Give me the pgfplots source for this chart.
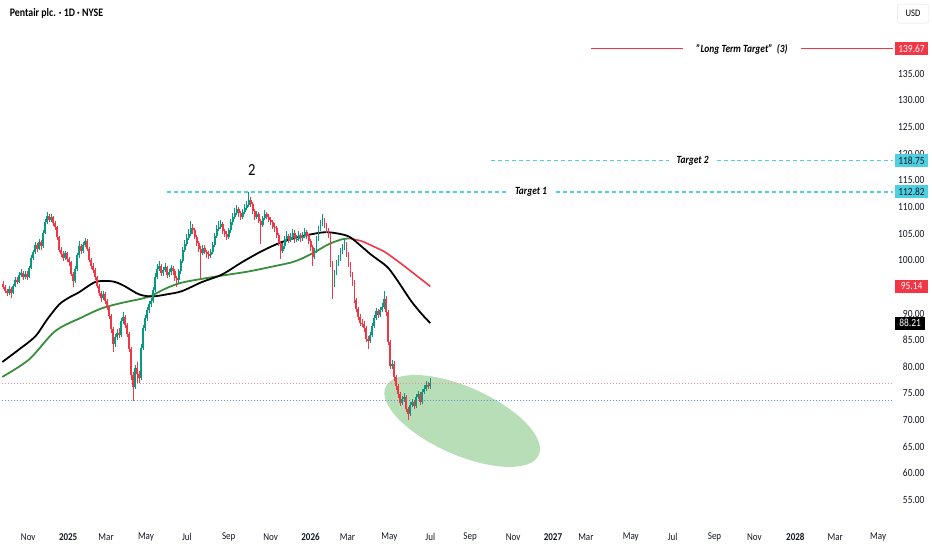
\documentclass[border=0pt]{standalone}
\usepackage{pgfplots}
\pgfplotsset{compat=1.18}
\usepackage{pgfplotstable}
\usepackage{fontspec}
\setmainfont{Carlito}[FakeStretch=0.86]
\definecolor{upc}{RGB}{8,153,129}
\definecolor{dnc}{RGB}{242,54,69}
\definecolor{tvtext}{RGB}{19,23,34}
\definecolor{tcyan}{RGB}{77,208,225}
\definecolor{ellg}{RGB}{183,222,183}
\definecolor{magreen}{RGB}{56,142,60}
\definecolor{pinkdot}{RGB}{244,140,150}
\definecolor{bluedot}{RGB}{90,145,225}

\pgfplotstableread{
x o h l c
1 95.6 96.1 94.6 95.0
3 95.0 95.4 93.8 94.2
5 94.2 94.6 93.2 93.8
7 93.8 95.1 93.5 94.6
9 94.6 95.0 93.0 93.9
11 93.9 95.6 93.6 95.2
13 95.2 96.8 94.9 96.3
15 96.3 96.9 95.5 96.0
17 96.0 97.8 95.7 97.2
19 97.2 98.3 96.8 97.6
21 97.6 97.9 96.2 96.8
23 96.8 98.0 96.4 97.5
25 97.5 97.9 96.3 96.9
27 96.9 99.0 96.6 98.6
29 98.6 100.9 98.3 100.4
31 100.4 102.0 100.0 101.5
33 101.5 103.5 101.1 102.8
35 102.8 103.3 101.6 102.2
37 102.2 104.0 101.9 103.4
39 103.4 103.8 102.0 102.6
41 102.6 105.7 102.3 105.2
43 105.2 107.8 104.9 107.2
45 107.2 109.0 106.8 108.3
47 108.3 108.7 107.1 107.6
49 107.6 108.6 107.2 108.1
51 108.1 108.4 106.4 106.9
53 106.9 107.3 105.7 106.2
55 106.2 106.5 103.8 104.3
57 104.3 104.6 101.5 102.0
59 102.0 102.5 100.6 101.2
61 101.2 101.7 99.9 100.4
63 100.4 101.8 100.0 101.3
65 101.3 101.6 99.7 100.2
67 100.2 100.7 98.9 99.6
69 99.6 99.9 97.0 97.5
71 97.5 97.8 95.0 96.1
73 96.1 98.9 95.8 98.4
75 98.4 101.4 98.0 100.9
77 100.9 103.6 100.5 102.6
79 102.6 103.0 101.2 101.8
81 101.8 103.4 101.4 102.9
83 102.9 104.2 102.5 103.6
85 103.6 103.9 101.7 102.2
87 102.2 102.5 99.6 100.1
89 100.1 100.5 98.3 98.9
91 98.9 99.4 97.6 98.2
93 98.2 98.6 96.2 96.8
95 96.8 97.1 94.7 95.2
97 95.2 95.6 93.2 93.8
99 93.8 94.3 92.2 92.9
101 92.9 94.2 92.5 93.6
103 93.6 94.0 91.7 92.3
105 92.3 92.7 90.6 91.2
107 91.2 91.6 89.0 89.6
109 89.6 90.0 86.4 87.0
111 87.0 87.4 82.8 84.2
113 84.2 86.2 83.8 85.6
115 85.6 87.0 85.1 86.4
117 86.4 87.3 85.4 86.0
119 86.0 89.2 85.6 88.6
121 88.6 90.2 88.1 89.3
123 89.3 89.7 87.2 87.8
125 87.8 88.2 85.5 86.1
127 86.1 86.5 82.8 83.4
129 83.4 83.8 77.6 78.5
131 78.5 79.0 73.6 76.2
133 76.2 80.4 75.8 79.8
135 79.8 80.9 77.0 78.6
137 78.6 79.3 77.0 77.9
139 77.9 84.2 77.5 83.6
141 83.6 87.9 83.2 87.3
143 87.3 89.7 86.8 89.1
145 89.1 91.2 88.6 90.6
147 90.6 92.4 90.1 91.8
149 91.8 93.0 91.3 92.3
151 92.3 95.0 92.0 94.4
153 94.4 97.6 94.0 96.8
155 96.8 99.3 96.4 98.4
157 98.4 99.8 97.9 98.9
159 98.9 99.3 97.0 97.6
161 97.6 98.7 97.1 98.1
163 98.1 99.5 97.7 98.7
165 98.7 99.0 96.7 97.2
167 97.2 98.4 96.8 97.8
169 97.8 99.2 97.3 98.6
171 98.6 99.0 97.3 97.9
173 97.9 98.3 96.1 96.6
175 96.6 97.1 95.0 96.2
177 96.2 98.4 95.8 97.9
179 97.9 100.3 97.5 99.8
181 99.8 102.5 99.4 101.9
183 101.9 103.8 101.5 103.1
185 103.1 104.9 102.7 104.2
187 104.2 105.8 103.8 104.9
189 104.9 107.3 104.5 106.1
191 106.1 106.8 105.0 105.6
193 105.6 106.0 103.9 104.4
195 104.4 104.8 102.7 103.3
197 103.3 103.7 101.6 102.1
199 102.1 102.6 96.4 101.4
201 101.4 102.9 101.0 102.3
203 102.3 102.8 101.1 101.6
205 101.6 102.0 100.5 101.2
207 101.2 101.7 100.2 100.9
209 100.9 102.1 100.5 101.6
211 101.6 103.4 101.2 102.9
213 102.9 105.2 102.5 104.6
215 104.6 106.6 104.2 105.8
217 105.8 107.4 105.4 106.3
219 106.3 107.6 105.9 106.8
221 106.8 107.1 104.9 105.4
223 105.4 105.9 104.3 105.0
225 105.0 105.4 103.8 104.3
227 104.3 106.1 104.0 105.6
229 105.6 107.7 105.2 107.1
231 107.1 108.9 106.7 108.2
233 108.2 109.8 107.8 108.9
235 108.9 110.3 108.5 109.6
237 109.6 110.0 108.2 108.8
239 108.8 109.3 107.6 108.2
241 108.2 109.7 107.8 109.0
243 109.0 110.6 108.6 109.8
245 109.8 111.1 109.4 110.4
247 110.4 112.8 110.0 111.3
249 111.3 111.9 110.0 110.6
251 110.6 111.0 108.6 109.2
253 109.2 109.6 107.5 108.1
255 108.1 109.3 107.7 108.6
257 108.6 109.0 106.9 107.4
259 107.4 107.8 103.0 106.6
261 106.6 108.4 106.2 107.9
263 107.9 109.4 107.5 108.6
265 108.6 109.1 107.7 108.2
267 108.2 108.6 107.1 107.6
269 107.6 108.1 106.6 107.1
271 107.1 107.5 105.8 106.3
273 106.3 106.9 105.3 106.0
275 106.0 106.4 104.2 104.8
277 104.8 105.2 102.6 103.2
279 103.2 103.6 100.2 101.8
281 101.8 103.2 101.4 102.6
283 102.6 104.5 102.2 103.9
285 103.9 105.4 103.5 104.6
287 104.6 105.0 103.2 103.8
289 103.8 105.1 103.4 104.4
291 104.4 105.9 104.0 105.2
293 105.2 105.6 103.3 103.9
295 103.9 104.7 103.4 104.0
297 104.0 105.4 103.6 104.7
299 104.7 105.1 103.5 104.1
301 104.1 105.3 103.7 104.6
303 104.6 106.0 104.2 105.3
305 105.3 105.7 103.9 104.5
307 104.5 104.9 103.0 103.6
309 103.6 104.0 101.8 102.4
311 102.4 102.8 99.0 100.6
313 100.6 102.3 100.2 101.8
315 101.8 104.6 101.4 104.1
317 104.1 106.5 103.7 105.9
319 105.9 107.6 105.5 106.9
321 106.9 108.6 106.5 107.6
323 107.6 108.0 106.0 106.5
325 106.5 106.9 105.1 105.6
327 105.6 106.0 104.2 104.8
329 104.8 105.1 98.8 99.5
331 99.5 99.9 92.7 95.4
333 95.4 98.2 95.0 97.6
335 97.6 100.0 97.2 99.4
337 99.4 101.0 99.0 100.3
339 100.3 102.3 99.9 101.6
341 101.6 103.1 101.2 102.4
343 102.4 104.0 102.0 103.1
345 103.1 103.5 100.7 101.2
347 101.2 101.6 98.8 99.3
349 99.3 99.7 96.9 97.4
351 97.4 97.8 95.2 95.8
353 95.8 96.2 92.0 92.6
355 92.6 93.0 90.2 90.8
357 90.8 91.2 88.8 89.4
359 89.4 89.9 87.7 88.3
361 88.3 89.0 87.4 88.0
363 88.0 88.6 86.6 87.2
365 87.2 87.6 84.7 85.3
367 85.3 85.8 83.3 84.8
369 84.8 86.6 84.4 86.0
371 86.0 88.2 85.6 87.6
373 87.6 89.8 87.2 89.2
375 89.2 91.0 88.8 90.4
377 90.4 90.9 89.2 89.8
379 89.8 91.3 89.4 90.6
381 90.6 92.0 90.2 91.3
383 91.3 94.2 90.9 92.8
385 92.8 93.2 89.6 90.2
387 90.2 90.6 84.0 84.6
389 84.6 85.0 79.5 80.1
391 80.1 81.2 79.6 80.6
393 80.6 81.0 77.4 78.0
395 78.0 78.4 75.7 76.3
397 76.3 76.7 74.2 74.8
399 74.8 75.2 72.6 73.2
401 73.2 74.5 72.8 73.9
403 73.9 75.0 73.4 74.3
405 74.3 74.7 71.5 72.1
407 72.1 72.5 70.0 71.2
409 71.2 73.4 70.8 72.8
411 72.8 74.0 72.4 73.4
413 73.4 73.8 72.0 72.6
415 72.6 74.9 72.2 74.3
417 74.3 75.5 73.9 74.8
419 74.8 75.2 72.8 73.4
421 73.4 75.8 73.0 75.2
423 75.2 76.6 74.8 75.9
425 75.9 77.4 75.5 76.6
427 76.6 77.2 75.8 76.3
429 76.3 77.8 75.9 77.0
}\candles

\pgfplotstableread{
x y
0 80.9
15 83.0
33 85.7
45 88.9
57 91.7
67 93.0
77 94.0
93 95.9
107 96.1
115 95.8
123 95.1
137 93.6
150 93.2
165 93.6
180 94.2
200 95.9
220 97.3
240 99.6
260 101.7
280 103.4
300 104.5
320 105.2
330 105.2
347 104.5
360 102.6
370 101.0
385 98.9
392 97.3
400 95.1
410 92.3
420 90.0
429 88.2
}\blackma

\pgfplotstableread{
x y
0 78.1
27 81.4
53 86.7
80 89.3
100 91.0
120 92.0
140 92.8
150 93.4
165 94.8
180 95.8
200 96.5
223 97.2
247 97.9
273 98.9
290 99.6
300 100.3
313 101.5
327 103.0
340 103.9
348 104.1
}\greenma

\pgfplotstableread{
x y
348 104.1
360 103.6
372 102.6
383 101.6
393 100.3
403 98.9
416 97.0
429 95.1
}\redma

\begin{document}
\begin{tikzpicture}
\begin{axis}[
  scale only axis, width=932pt, height=550pt,
  xmin=0, xmax=932, ymin=45.86, ymax=148.86,
  hide axis, clip=false,
  every node/.append style={text=tvtext},
]
\path (rel axis cs:0,0) rectangle (rel axis cs:1,1);

% highlight ellipse
\fill[ellg] (axis cs:461,69.83) ellipse [x radius=84pt, y radius=34pt, rotate=-23.9];

% price lines
\addplot[color=pinkdot, line width=1pt, dash pattern=on 1pt off 2pt] coordinates {(0,76.95) (893,76.95)};
\addplot[color=bluedot, line width=1pt, dash pattern=on 1pt off 2pt] coordinates {(0,73.6) (893,73.6)};

% targets
\addplot[color=tcyan, line width=1.2pt, dash pattern=on 4pt off 3pt] coordinates {(165,112.82) (506,112.82)};
\addplot[color=tcyan, line width=1.2pt, dash pattern=on 4pt off 3pt] coordinates {(555,112.82) (893,112.82)};
\addplot[color=tcyan, line width=1.2pt, dash pattern=on 4pt off 3pt] coordinates {(490,118.75) (668,118.75)};
\addplot[color=tcyan, line width=1.2pt, dash pattern=on 4pt off 3pt] coordinates {(716,118.75) (893,118.75)};
\addplot[color=dnc, line width=1.1pt] coordinates {(590,139.67) (682,139.67)};
\addplot[color=dnc, line width=1.1pt] coordinates {(801,139.67) (893,139.67)};

% moving averages
\addplot[color=magreen, line width=1.8pt, smooth] table[x=x,y=y]{\greenma};
\addplot[color=dnc, line width=1.6pt, smooth] table[x=x,y=y]{\redma};
\addplot[color=black, line width=1.8pt, smooth] table[x=x,y=y]{\blackma};

% candles: wicks and bodies as error bars
\addplot[draw=none, mark=none, restrict expr to domain={\thisrow{c}-\thisrow{o}}{-1000:0},
  error bars/.cd, y dir=both, y explicit, error mark=none,
  error bar style={draw=dnc, line width=0.8pt}]
  table[x=x, y expr={(\thisrow{h}+\thisrow{l})/2}, y error expr={(\thisrow{h}-\thisrow{l})/2}]{\candles};
\addplot[draw=none, mark=none, restrict expr to domain={\thisrow{c}-\thisrow{o}}{-1000:0},
  error bars/.cd, y dir=both, y explicit, error mark=none,
  error bar style={draw=dnc, line width=1.9pt}]
  table[x=x, y expr={(\thisrow{o}+\thisrow{c})/2}, y error expr={abs(\thisrow{o}-\thisrow{c})/2}]{\candles};
\addplot[draw=none, mark=none, restrict expr to domain={\thisrow{c}-\thisrow{o}}{0:1000},
  error bars/.cd, y dir=both, y explicit, error mark=none,
  error bar style={draw=upc, line width=0.8pt}]
  table[x=x, y expr={(\thisrow{h}+\thisrow{l})/2}, y error expr={(\thisrow{h}-\thisrow{l})/2}]{\candles};
\addplot[draw=none, mark=none, restrict expr to domain={\thisrow{c}-\thisrow{o}}{0:1000},
  error bars/.cd, y dir=both, y explicit, error mark=none,
  error bar style={draw=upc, line width=1.9pt}]
  table[x=x, y expr={(\thisrow{o}+\thisrow{c})/2}, y error expr={abs(\thisrow{o}-\thisrow{c})/2}]{\candles};

% annotations
\node[font=\fontsize{17}{18}\selectfont] at (axis cs:250,117.0) {2};
\node[font=\fontsize{11}{12}\selectfont\bfseries\itshape] at (axis cs:530,112.82) {Target 1};
\node[font=\fontsize{11}{12}\selectfont\bfseries\itshape] at (axis cs:692,118.75) {Target 2};
\node[font=\fontsize{11}{12}\selectfont\bfseries\itshape] at (axis cs:741.5,139.67) {"Long Term Target"\ \ (3)};

% title
\node[anchor=west, font=\fontsize{11.5}{12}\selectfont\bfseries] at (axis cs:4,146.4) {Pentair plc. · 1D · NYSE};

% USD box
\node[draw=black!12, rounded corners=2pt, minimum width=31pt, minimum height=19pt, inner sep=0pt, font=\fontsize{10}{11}\selectfont] at (axis cs:913,146.3) {USD};

% price scale labels
\begin{scope}[every node/.style={anchor=east, font=\fontsize{11}{12}\selectfont, text=tvtext}]
\node at (axis cs:928,135) {135.00};
\node at (axis cs:928,130) {130.00};
\node at (axis cs:928,125) {125.00};
\node at (axis cs:928,120) {120.00};
\node at (axis cs:928,115) {115.00};
\node at (axis cs:928,110) {110.00};
\node at (axis cs:928,105) {105.00};
\node at (axis cs:928,100) {100.00};
\node at (axis cs:928,90) {90.00};
\node at (axis cs:928,85) {85.00};
\node at (axis cs:928,80) {80.00};
\node at (axis cs:928,75) {75.00};
\node at (axis cs:928,70) {70.00};
\node at (axis cs:928,65) {65.00};
\node at (axis cs:928,60) {60.00};
\node at (axis cs:928,55) {55.00};
\end{scope}

% price tags
\begin{scope}[every node/.style={minimum width=33pt, minimum height=13pt, inner sep=0pt, font=\fontsize{11}{12}\selectfont}]
\node[fill=dnc, text=white] at (axis cs:911.5,139.67) {139.67};
\node[fill=tcyan, text=tvtext] at (axis cs:911.5,118.75) {118.75};
\node[fill=tcyan, text=tvtext] at (axis cs:911.5,112.82) {112.82};
\node[fill=dnc, text=white] at (axis cs:911.5,95.14) {95.14};
\node[fill=black, text=white, minimum width=30pt] at (axis cs:910,88.21) {88.21};
\end{scope}

% time axis labels
\begin{scope}[every node/.style={font=\fontsize{10.5}{12}\selectfont, text=tvtext}]
\node at (axis cs:26,48.1) {Nov};
\node[font=\fontsize{10.5}{12}\selectfont\bfseries] at (axis cs:66,48.1) {2025};
\node at (axis cs:104,48.1) {Mar};
\node at (axis cs:144,48.1) {May};
\node at (axis cs:185,48.1) {Jul};
\node at (axis cs:227,48.1) {Sep};
\node at (axis cs:269,48.1) {Nov};
\node[font=\fontsize{10.5}{12}\selectfont\bfseries] at (axis cs:309,48.1) {2026};
\node at (axis cs:346,48.1) {Mar};
\node at (axis cs:388,48.1) {May};
\node at (axis cs:429,48.1) {Jul};
\node at (axis cs:469,48.1) {Sep};
\node at (axis cs:512,48.1) {Nov};
\node[font=\fontsize{10.5}{12}\selectfont\bfseries] at (axis cs:552,48.1) {2027};
\node at (axis cs:585,48.1) {Mar};
\node at (axis cs:630,48.1) {May};
\node at (axis cs:672,48.1) {Jul};
\node at (axis cs:714,48.1) {Sep};
\node at (axis cs:754,48.1) {Nov};
\node[font=\fontsize{10.5}{12}\selectfont\bfseries] at (axis cs:795,48.1) {2028};
\node at (axis cs:835,48.1) {Mar};
\node at (axis cs:878,48.1) {May};
\end{scope}
\end{axis}
\end{tikzpicture}
\end{document}
